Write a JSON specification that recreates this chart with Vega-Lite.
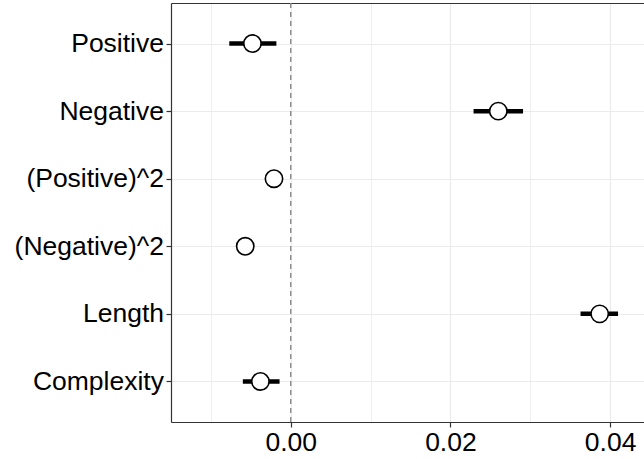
{
  "$schema": "https://vega.github.io/schema/vega-lite/v6.json",
  "width": 644,
  "height": 459,
  "autosize": {"type": "fit", "contains": "padding"},
  "padding": {"left": 14, "top": 2, "right": 0, "bottom": 3},
  "background": "white",
  "config": {
    "view": {"stroke": null},
    "font": "Liberation Sans",
    "axis": {
      "labelFont": "Liberation Sans",
      "labelFontSize": 26.5,
      "labelColor": "#000000",
      "domainColor": "#333333",
      "domainWidth": 1.2,
      "tickColor": "#333333",
      "tickWidth": 1.2,
      "tickSize": 5,
      "labelPadding": 2.5,
      "gridColor": "#EBEBEB",
      "gridWidth": 1.2
    }
  },
  "data": {
    "values": [
      {"term": "Positive", "est": -0.0048, "lo": -0.0077, "hi": -0.0018},
      {"term": "Negative", "est": 0.0260, "lo": 0.0229, "hi": 0.0291},
      {"term": "(Positive)^2", "est": -0.0021, "lo": -0.0025, "hi": -0.0017},
      {"term": "(Negative)^2", "est": -0.0057, "lo": -0.0061, "hi": -0.0053},
      {"term": "Length", "est": 0.0387, "lo": 0.0363, "hi": 0.0410},
      {"term": "Complexity", "est": -0.0038, "lo": -0.0060, "hi": -0.0014}
    ]
  },
  "layer": [
    {
      "data": {"values": [{"zero": 0}]},
      "mark": {"type": "rule", "color": "#888888", "strokeWidth": 1.4, "strokeDash": [5, 4]},
      "encoding": {
        "x": {
          "field": "zero",
          "type": "quantitative",
          "scale": {"domain": [-0.015, 0.04425], "nice": false, "zero": false},
          "axis": {
            "orient": "top",
            "title": null,
            "labels": false,
            "ticks": false,
            "grid": true,
            "gridWidth": 0.8,
            "values": [-0.01, 0.01, 0.03],
            "domain": true
          }
        }
      }
    },
    {
      "mark": {"type": "rule", "color": "#000000", "strokeWidth": 4.5},
      "encoding": {
        "y": {
          "field": "term",
          "type": "nominal",
          "sort": null,
          "scale": {"type": "point", "padding": 0.6},
          "axis": {"title": null, "grid": true, "domain": true}
        },
        "x": {"field": "lo", "type": "quantitative", "axis": null},
        "x2": {"field": "hi"}
      }
    },
    {
      "mark": {"type": "point", "shape": "circle", "filled": true, "fill": "white", "stroke": "black", "strokeWidth": 1.6, "opacity": 1, "size": 300},
      "encoding": {
        "y": {
          "field": "term",
          "type": "nominal",
          "sort": null,
          "scale": {"type": "point", "padding": 0.6},
          "axis": {"title": null, "grid": true, "domain": true}
        },
        "x": {
          "field": "est",
          "type": "quantitative",
          "axis": {"title": null, "values": [0, 0.02, 0.04], "format": ".2f", "grid": true}
        }
      }
    }
  ],
  "resolve": {"axis": {"x": "independent"}}
}
